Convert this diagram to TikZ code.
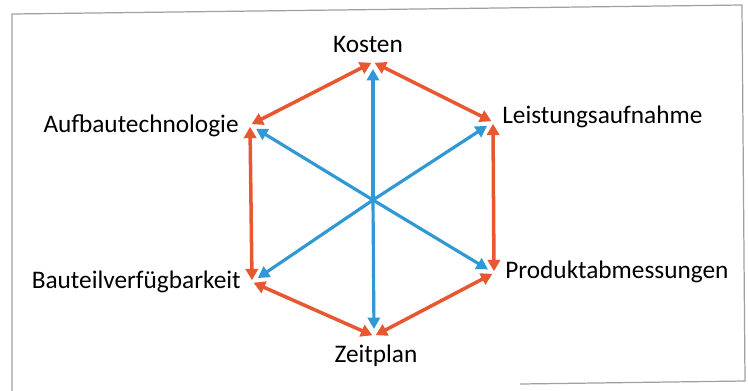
\documentclass[tikz,border=0pt]{standalone}
\usepackage{fontspec}
\setmainfont{Carlito}
\usetikzlibrary{positioning,arrows.meta}
\definecolor{EdgeRed}{RGB}{232,88,48}
\definecolor{SpokeBlue}{RGB}{48,152,212}
\definecolor{FrameGray}{RGB}{160,160,160}
\tikzset{
  ring/.style={draw=EdgeRed,line width=2pt,{Triangle[length=6.5pt,width=7pt]}-{Triangle[length=6.5pt,width=7pt]},shorten <=1pt,shorten >=1pt},
  spoke/.style={draw=SpokeBlue,line width=1.8pt,-{Triangle[length=6.5pt,width=7pt]},shorten >=4pt},
  lab/.style={font=\fontsize{14.4}{16}\selectfont,inner sep=0pt},
}
\begin{document}
\begin{tikzpicture}[x=0.02cm,y=-0.02cm]
\useasboundingbox (0,0) rectangle (748,390);
\draw[FrameGray,line width=0.7pt] (12,392)--(12,14)--(742,5)--(745,381)--(520,384);
% hexagon corners
\coordinate (mid) at (373,200);
\coordinate (kos) at (373,62);\coordinate (auf) at (250,125);\coordinate (lei) at (493,122);
\coordinate (bau) at (252,282);\coordinate (pro) at (494,273);\coordinate (zei) at (374,336);
% labels
\node[lab,anchor=base] (kosL) at (368,52){Kosten};
\node[lab,anchor=base east] (aufL) at (239,132){Aufbautechnologie};
\node[lab,anchor=base west] (leiL) at (502,123){Leistungsaufnahme};
\node[lab,anchor=base east] (bauL) at (241,288){Bauteilverfügbarkeit};
\node[lab,anchor=base west] (proL) at (505,278){Produktabmessungen};
\node[lab,anchor=base] (zeiL) at (376,362){Zeitplan};
% spokes
\foreach \p in {kos,auf,lei,bau,pro,zei}{\draw[spoke] (mid)--(\p);}
% ring
\draw[ring] (kos)--(auf);\draw[ring] (kos)--(lei);\draw[ring] (auf)--(bau);
\draw[ring] (lei)--(pro);\draw[ring] (bau)--(zei);\draw[ring] (pro)--(zei);
\end{tikzpicture}
\end{document}
